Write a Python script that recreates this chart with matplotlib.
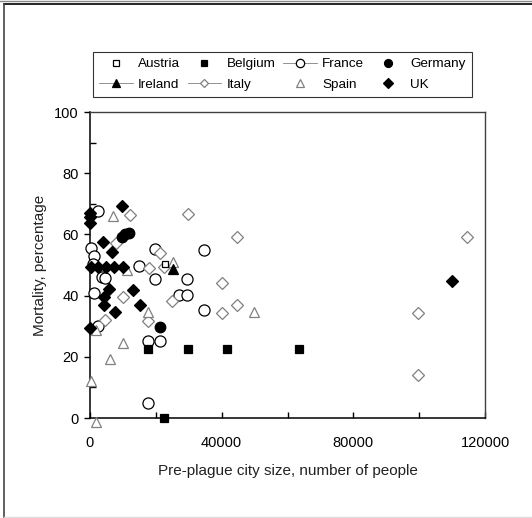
import matplotlib.pyplot as plt
from matplotlib.lines import Line2D
from matplotlib.ticker import MultipleLocator

plt.rcParams['font.family'] = ['Liberation Sans', 'DejaVu Sans']

# values (city size, mortality %)
austria_x = [22700]
austria_y = [50.2]

belgium_x = [17600, 29800, 41700, 63500, 22500]
belgium_y = [22.4, 22.4, 22.4, 22.4, 0.1]

france_x = [2400, 300, 1100, 1000, 19700, 34600, 14800, 3700, 4700, 19700,
            29500, 1200, 27000, 29500, 34600, 2300, 17500, 21400, 17500]
france_y = [67.5, 55.5, 53.0, 50.3, 55.3, 55.0, 49.7, 46.2, 45.7, 45.4,
            45.3, 41.0, 40.2, 40.2, 35.3, 30.2, 25.2, 25.2, 5.0]

germany_x = [9700, 10700, 11700, 21400]
germany_y = [59.3, 60.0, 60.3, 29.8]

ireland_x = [25100]
ireland_y = [48.6]

italy_x = [12000, 29800, 44700, 8000, 21200, 17800, 22500, 40200, 10000, 25000,
           40200, 44700, 4500, 17700, 114500, 99700, 99700]
italy_y = [66.2, 66.6, 59.0, 57.1, 54.0, 49.1, 49.4, 44.2, 39.5, 38.3,
           34.4, 36.9, 32.0, 31.7, 59.0, 34.2, 14.0]

spain_x = [7000, 25200, 11300, 17700, 49700, 9900, 6000, 300, 1800, 1800]
spain_y = [65.9, 51.1, 48.4, 34.5, 34.7, 24.6, 19.3, 12.2, 28.8, -1.2]

uk_x = [9800, 100, 100, 100, 3900, 6600, 300, 2500, 4800, 7200, 9900,
        5700, 13100, 4300, 4200, 15100, 7700, 0, 110000]
uk_y = [69.4, 66.9, 65.8, 63.6, 57.4, 54.1, 49.5, 49.5, 49.5, 49.5, 49.5,
        42.0, 41.7, 39.6, 36.8, 36.8, 34.6, 29.4, 44.8]

gray = '#808080'

fig = plt.figure(figsize=(5.32, 5.18), dpi=100)
ax = fig.add_axes([90 / 532, 100 / 518, 395 / 532, 306 / 518])

# marker styles: (marker, size, face, edge)
styles = {
    'Austria': ('s', 5.0, 'white', 'black'),
    'Belgium': ('s', 6.3, 'black', 'black'),
    'France': ('o', 8.0, 'white', 'black'),
    'Germany': ('o', 7.6, 'black', 'black'),
    'Ireland': ('^', 7.0, 'black', 'black'),
    'Italy': ('D', 6.0, 'white', gray),
    'Spain': ('^', 7.2, 'white', gray),
    'UK': ('D', 6.2, 'black', 'black'),
}
series = [
    ('France', france_x, france_y),
    ('Italy', italy_x, italy_y),
    ('Spain', spain_x, spain_y),
    ('Austria', austria_x, austria_y),
    ('Belgium', belgium_x, belgium_y),
    ('Germany', germany_x, germany_y),
    ('Ireland', ireland_x, ireland_y),
    ('UK', uk_x, uk_y),
]
for name, xs, ys in series:
    m, ms, fc, ec = styles[name]
    ax.plot(xs, ys, linestyle='none', marker=m, markersize=ms,
            markerfacecolor=fc, markeredgecolor=ec, markeredgewidth=0.9,
            clip_on=False, zorder=3)

ax.set_xlim(0, 120000)
ax.set_ylim(0, 100)
ax.xaxis.set_major_locator(MultipleLocator(40000))
ax.xaxis.set_minor_locator(MultipleLocator(20000))
ax.yaxis.set_major_locator(MultipleLocator(20))
ax.yaxis.set_minor_locator(MultipleLocator(10))
ax.tick_params(axis='x', which='both', direction='in', length=4, width=1,
               labelsize=10.5, pad=13)
ax.tick_params(axis='y', which='major', direction='out', length=4, width=1,
               labelsize=10.5, pad=4)
ax.tick_params(axis='y', which='minor', direction='in', length=4, width=1)
ax.spines['left'].set_linewidth(1.1)
ax.spines['bottom'].set_linewidth(1.1)
for s in ['top', 'right']:
    ax.spines[s].set_color('#404040')
    ax.spines[s].set_linewidth(1.0)

ax.set_xlabel('Pre-plague city size, number of people', fontsize=11, labelpad=10,
              color='#222222')
ax.set_ylabel('Mortality, percentage', fontsize=11, labelpad=5, color='#222222')

order = ['Austria', 'Belgium', 'France', 'Germany', 'Ireland', 'Italy', 'Spain', 'UK']
with_line = {'France', 'Ireland', 'Italy'}
handles = []
for name in order:
    m, ms, fc, ec = styles[name]
    handles.append(Line2D([], [], marker=m, markersize=ms * 0.75,
                          markerfacecolor=fc, markeredgecolor=ec, markeredgewidth=0.9,
                          linestyle='-' if name in with_line else 'none',
                          color=gray, linewidth=0.6))
# matplotlib fills legend column-wise; reorder so rows read across
ncol = 4
idx = [0, 4, 1, 5, 2, 6, 3, 7]
leg = fig.legend([handles[i] for i in idx], [order[i] for i in idx], ncol=ncol,
                 loc='upper left', bbox_to_anchor=(93 / 532, 1 - 52 / 518),
                 fontsize=9.7, frameon=True, fancybox=False, handlelength=2.5,
                 handletextpad=0.4, columnspacing=0.55, labelspacing=0.6,
                 borderpad=0.45, borderaxespad=0)
leg.get_frame().set_edgecolor('black')
leg.get_frame().set_linewidth(0.8)

# outer chart frame
fig.add_artist(Line2D([4 / 532, 1], [1 - 4 / 518, 1 - 4 / 518], color='black', lw=1.2,
                      transform=fig.transFigure))
fig.add_artist(Line2D([0, 1], [1 - 1 / 518, 1 - 1 / 518], color='#888888', lw=1.0,
                      transform=fig.transFigure))
fig.add_artist(Line2D([4 / 532, 4 / 532], [0, 1 - 4 / 518], color='#444444', lw=1.2,
                      transform=fig.transFigure))
fig.add_artist(Line2D([4 / 532, 1], [1.5 / 518, 1.5 / 518], color='#dddddd', lw=1.0,
                      transform=fig.transFigure))

fig.savefig('out.png', dpi=100)
